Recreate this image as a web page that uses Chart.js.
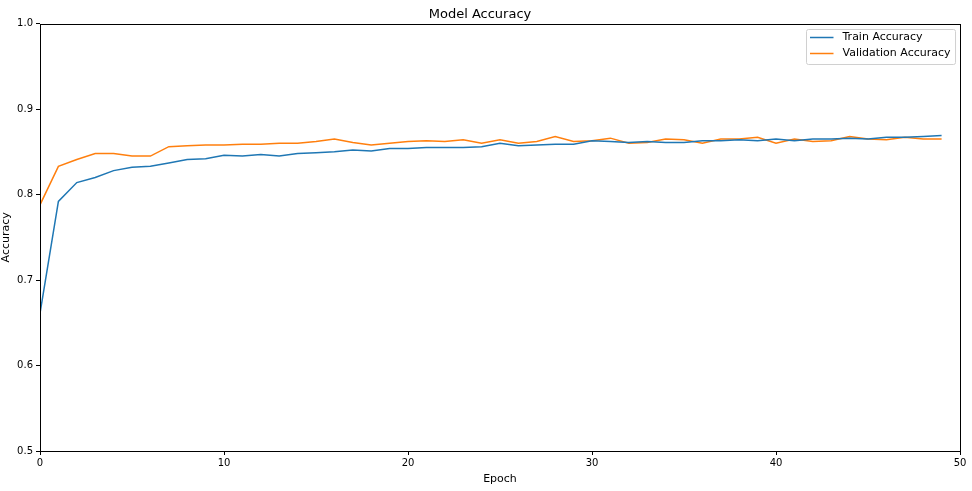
<!DOCTYPE html>
<html>
<head>
<meta charset="utf-8">
<script src="https://cdn.jsdelivr.net/npm/chart.js@4/dist/chart.umd.min.js"></script>
<style>
  html, body { margin: 0; padding: 0; background: #fff; }
  #wrap { width: 972px; height: 491px; position: relative; }
</style>
</head>
<body>
<div id="wrap"><canvas id="c" width="972" height="491"></canvas></div>
<script>
const epochs = Array.from({length: 50}, (_, i) => i);
const trainAccuracy = [
  0.661, 0.792, 0.814, 0.820, 0.828, 0.832, 0.833, 0.837, 0.841, 0.842,
  0.846, 0.845, 0.847, 0.845, 0.848, 0.849, 0.850, 0.852, 0.851, 0.854,
  0.854, 0.855, 0.855, 0.855, 0.856, 0.860, 0.857, 0.858, 0.859, 0.859,
  0.863, 0.862, 0.861, 0.862, 0.861, 0.861, 0.863, 0.863, 0.864, 0.863,
  0.865, 0.863, 0.865, 0.865, 0.866, 0.865, 0.867, 0.867, 0.868, 0.869
];
const valAccuracy = [
  0.788, 0.833, 0.841, 0.848, 0.848, 0.845, 0.845, 0.856, 0.857, 0.858,
  0.858, 0.859, 0.859, 0.860, 0.860, 0.862, 0.865, 0.861, 0.858, 0.860,
  0.862, 0.863, 0.862, 0.864, 0.860, 0.864, 0.860, 0.862, 0.868, 0.862,
  0.863, 0.866, 0.860, 0.861, 0.865, 0.864, 0.860, 0.865, 0.865, 0.867,
  0.860, 0.865, 0.862, 0.863, 0.868, 0.865, 0.864, 0.867, 0.865, 0.865
];
const seriesLabels = ['Train Accuracy', 'Validation Accuracy'];
const xTicks = [0, 10, 20, 30, 40, 50];
const yTicks = [0.5, 0.6, 0.7, 0.8, 0.9, 1.0];

const FONT = 'DejaVu Sans';

const frame = {
  id: 'frame',
  afterDatasetsDraw(chart) {
    const {ctx, chartArea: a} = chart;
    ctx.save();
    ctx.strokeStyle = '#000';
    ctx.lineWidth = 1;
    ctx.strokeRect(Math.round(a.left) + 0.5, Math.round(a.top) + 0.5,
      Math.round(a.right - a.left) , Math.round(a.bottom - a.top));
    ctx.restore();
  }
};

const insideLegend = {
  id: 'insideLegend',
  afterDraw(chart) {
    const {ctx, chartArea: a} = chart;
    const ds = chart.data.datasets;
    ctx.save();
    ctx.font = '11px "' + FONT + '"';
    let maxW = 0;
    ds.forEach(d => { maxW = Math.max(maxW, ctx.measureText(d.label).width); });
    const w = 3.5 + 23.5 + 9 + maxW + 5;
    const h = 35;
    const x = Math.round(a.right - 5 - w) + 0.5;
    const y = Math.round(a.top + 5) + 0.5;
    ctx.fillStyle = 'rgba(255,255,255,0.8)';
    ctx.strokeStyle = '#d0d0d0';
    ctx.lineWidth = 1;
    ctx.beginPath();
    ctx.roundRect(x, y, w, h, 2);
    ctx.fill();
    ctx.stroke();
    ds.forEach((d, i) => {
      const cy = y + 8 + i * 16;
      ctx.strokeStyle = d.borderColor;
      ctx.lineWidth = 1.5;
      ctx.beginPath();
      ctx.moveTo(x + 3.5, cy);
      ctx.lineTo(x + 27, cy);
      ctx.stroke();
      ctx.fillStyle = '#000';
      ctx.textBaseline = 'middle';
      ctx.textAlign = 'left';
      ctx.fillText(d.label, x + 36, cy);
    });
    ctx.restore();
  }
};

new Chart(document.getElementById('c'), {
  type: 'line',
  data: {
    datasets: [
      {
        label: seriesLabels[0],
        data: epochs.map((e, i) => ({x: e, y: trainAccuracy[i]})),
        borderColor: '#1f77b4',
        backgroundColor: '#1f77b4',
        borderWidth: 1.5,
        pointRadius: 0,
        tension: 0,
        fill: false
      },
      {
        label: seriesLabels[1],
        data: epochs.map((e, i) => ({x: e, y: valAccuracy[i]})),
        borderColor: '#ff7f0e',
        backgroundColor: '#ff7f0e',
        borderWidth: 1.5,
        pointRadius: 0,
        tension: 0,
        fill: false
      }
    ]
  },
  options: {
    responsive: false,
    animation: false,
    devicePixelRatio: 1,
    layout: { padding: { left: 0, right: 12, top: 0, bottom: 0 } },
    plugins: {
      legend: { display: false },
      tooltip: { enabled: false },
      title: {
        display: true,
        text: 'Model Accuracy',
        color: '#000',
        font: { family: FONT, size: 13, weight: 'normal' },
        padding: { top: 6.5, bottom: 1.5 }
      }
    },
    scales: {
      x: {
        type: 'linear',
        min: 0, max: 50,
        afterBuildTicks(scale) { scale.ticks = xTicks.map(v => ({value: v})); },
        afterFit(scale) { scale.height = 40; },
        grid: { display: true, drawOnChartArea: false, drawTicks: true, tickLength: 4, tickColor: '#000', color: '#000' },
        border: { display: false },
        ticks: { color: '#000', padding: 2, maxRotation: 0, font: { family: FONT, size: 10 }, callback: v => String(v) },
        title: { display: true, text: 'Epoch', color: '#000', font: { family: FONT, size: 11 }, padding: { top: 0, bottom: 5 } }
      },
      y: {
        type: 'linear',
        min: 0.5, max: 1.0,
        afterBuildTicks(scale) { scale.ticks = yTicks.map(v => ({value: v})); },
        afterFit(scale) { scale.width = 40; },
        grid: { display: true, drawOnChartArea: false, drawTicks: true, tickLength: 4, tickColor: '#000', color: '#000' },
        border: { display: false },
        ticks: { color: '#000', padding: 3, font: { family: FONT, size: 10 }, callback: v => v.toFixed(1) },
        title: { display: true, text: 'Accuracy', color: '#000', font: { family: FONT, size: 11 }, padding: { top: 0, bottom: 0 } }
      }
    }
  },
  plugins: [frame, insideLegend]
});
</script>
</body>
</html>
